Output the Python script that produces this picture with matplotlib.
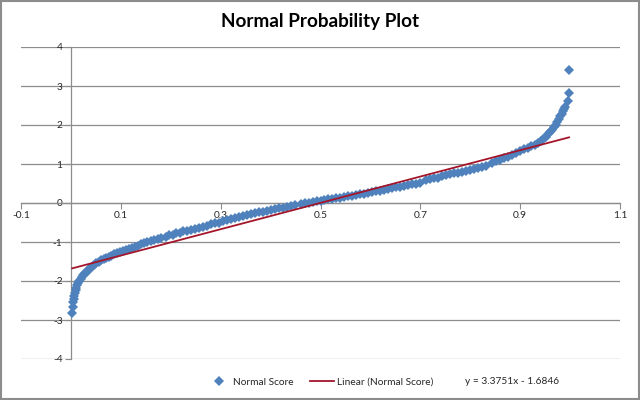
import matplotlib
matplotlib.use("Agg")
import matplotlib.pyplot as plt
from matplotlib.lines import Line2D
from matplotlib.patches import Rectangle

plt.rcParams['axes.unicode_minus'] = False
plt.rcParams['font.family'] = ['Lato', 'DejaVu Sans']

title = "Normal Probability Plot"
series_name = "Normal Score"
trend_name = "Linear (Normal Score)"
equation = "y = 3.3751x - 1.6846"
slope = 3.3751
intercept = -1.6846

x_ticks = [-0.1, 0.1, 0.3, 0.5, 0.7, 0.9, 1.1]
x_tick_labels = ["-0.1", "0.1", "0.3", "0.5", "0.7", "0.9", "1.1"]
y_ticks = [-4, -3, -2, -1, 0, 1, 2, 3, 4]
y_tick_labels = ["-4", "-3", "-2", "-1", "0", "1", "2", "3", "4"]

prob = [0.0027, 0.0037, 0.0047, 0.0057, 0.0067, 0.0080, 0.0095, 0.0110, 0.0130, 0.0150,
        0.0170, 0.0195, 0.0220, 0.0250, 0.0280, 0.0315, 0.0350, 0.0390, 0.0430, 0.0470,
        0.0510, 0.0560, 0.0610, 0.0660, 0.0710, 0.0760, 0.0810, 0.0870, 0.0930, 0.0990,
        0.1050, 0.1110, 0.1170, 0.1230, 0.1290, 0.1350, 0.1410, 0.1470, 0.1530, 0.1600,
        0.1670, 0.1740, 0.1810, 0.1900, 0.1970, 0.2040, 0.2110, 0.2180, 0.2250, 0.2320,
        0.2400, 0.2480, 0.2560, 0.2640, 0.2720, 0.2800, 0.2880, 0.2960, 0.3040, 0.3120,
        0.3200, 0.3280, 0.3360, 0.3440, 0.3520, 0.3600, 0.3680, 0.3760, 0.3840, 0.3920,
        0.4000, 0.4080, 0.4160, 0.4240, 0.4320, 0.4400, 0.4480, 0.4600, 0.4680, 0.4760,
        0.4840, 0.4920, 0.5000, 0.5080, 0.5160, 0.5240, 0.5320, 0.5400, 0.5480, 0.5560,
        0.5640, 0.5720, 0.5800, 0.5880, 0.5960, 0.6040, 0.6120, 0.6200, 0.6280, 0.6360,
        0.6440, 0.6520, 0.6600, 0.6680, 0.6760, 0.6840, 0.6920, 0.7000, 0.7120, 0.7200,
        0.7280, 0.7360, 0.7440, 0.7520, 0.7600, 0.7680, 0.7760, 0.7840, 0.7920, 0.8000,
        0.8080, 0.8160, 0.8240, 0.8320, 0.8440, 0.8520, 0.8600, 0.8680, 0.8760, 0.8840,
        0.8920, 0.9000, 0.9080, 0.9150, 0.9220, 0.9290, 0.9350, 0.9410, 0.9460, 0.9510,
        0.9550, 0.9590, 0.9630, 0.9670, 0.9710, 0.9745, 0.9775, 0.9805, 0.9830, 0.9855,
        0.9880, 0.9900, 0.9965, 0.9975, 0.9980]

score = [-2.83, -2.66, -2.55, -2.46, -2.38, -2.30, -2.23, -2.17, -2.11, -2.05,
         -2.00, -1.95, -1.90, -1.85, -1.80, -1.76, -1.71, -1.67, -1.63, -1.59,
         -1.55, -1.51, -1.47, -1.44, -1.41, -1.38, -1.35, -1.32, -1.29, -1.26,
         -1.23, -1.21, -1.18, -1.15, -1.12, -1.09, -1.06, -1.03, -1.00, -0.97,
         -0.95, -0.92, -0.90, -0.86, -0.83, -0.81, -0.78, -0.76, -0.73, -0.71,
         -0.69, -0.66, -0.63, -0.61, -0.58, -0.55, -0.52, -0.50, -0.47, -0.44,
         -0.41, -0.38, -0.35, -0.33, -0.30, -0.28, -0.26, -0.24, -0.22, -0.20,
         -0.18, -0.16, -0.14, -0.12, -0.10, -0.08, -0.06, -0.02, 0.00, 0.01,
         0.03, 0.05, 0.06, 0.08, 0.09, 0.11, 0.12, 0.14, 0.15, 0.17,
         0.19, 0.21, 0.22, 0.24, 0.26, 0.28, 0.30, 0.32, 0.34, 0.36,
         0.38, 0.40, 0.42, 0.44, 0.46, 0.48, 0.50, 0.52, 0.59, 0.61,
         0.63, 0.65, 0.68, 0.71, 0.74, 0.76, 0.78, 0.80, 0.82, 0.84,
         0.87, 0.90, 0.93, 0.96, 1.03, 1.07, 1.11, 1.15, 1.19, 1.24,
         1.29, 1.34, 1.38, 1.42, 1.46, 1.50, 1.54, 1.59, 1.64, 1.70,
         1.76, 1.82, 1.88, 1.94, 2.01, 2.08, 2.15, 2.22, 2.29, 2.35,
         2.40, 2.45, 2.62, 2.83, 3.40]

blue = "#4F81BD"
red = "#A3162A"
grid_gray = "#8C8C8C"
text_col = "#262626"

fig = plt.figure(figsize=(6.4, 4.0), dpi=100)
ax = fig.add_axes([21 / 640, 1 - 359 / 400, 599 / 640, 312 / 400])
ax.set_xlim(-0.1, 1.1)
ax.set_ylim(-4, 4)

ax.set_axisbelow(True)
for yv in y_ticks:
    ax.axhline(yv, color=grid_gray, lw=0.9, zorder=0)

for s in ['top', 'right']:
    ax.spines[s].set_visible(False)
ax.spines['left'].set_position(('data', 0))
ax.spines['bottom'].set_position(('data', 0))
for s in ['left', 'bottom']:
    ax.spines[s].set_color(grid_gray)
    ax.spines[s].set_linewidth(0.9)

ax.set_xticks(x_ticks)
ax.set_xticklabels(x_tick_labels)
ax.set_yticks(y_ticks)
ax.set_yticklabels(y_tick_labels)
ax.tick_params(axis='both', direction='out', length=4, width=0.8, color=grid_gray,
               labelsize=7.3, labelcolor=text_col, pad=2)

ax.plot(prob, score, linestyle='none', marker='D', markersize=4.9,
        color=blue, markeredgewidth=0, zorder=3)
x0, x1 = min(prob), max(prob)
ax.plot([x0, x1], [slope * x0 + intercept, slope * x1 + intercept],
        color=red, lw=1.3, zorder=4)

fig.text(0.5, 1 - 21 / 400, title, ha='center', va='center',
         fontsize=13.6, fontweight='bold', color='black')

handles = [Line2D([], [], linestyle='none', marker='D', markersize=4.9,
                  color=blue, markeredgewidth=0),
           Line2D([], [], color=red, lw=1.3)]
fig.legend(handles, [series_name, trend_name], loc='center',
           bbox_to_anchor=(320 / 640, 1 - 382 / 400), ncol=2, frameon=False,
           fontsize=7.3, handlelength=2.3, columnspacing=1.6, handletextpad=0.3,
           labelcolor=text_col)
fig.text(465 / 640, 1 - 381 / 400, equation, ha='left', va='center',
         fontsize=7.3, color=text_col)

fig.patches.append(Rectangle((0.001, 0.002), 0.997, 0.995, transform=fig.transFigure,
                             fill=False, edgecolor='#8C8C8C', lw=1.5))

fig.savefig("out.png", dpi=100)
